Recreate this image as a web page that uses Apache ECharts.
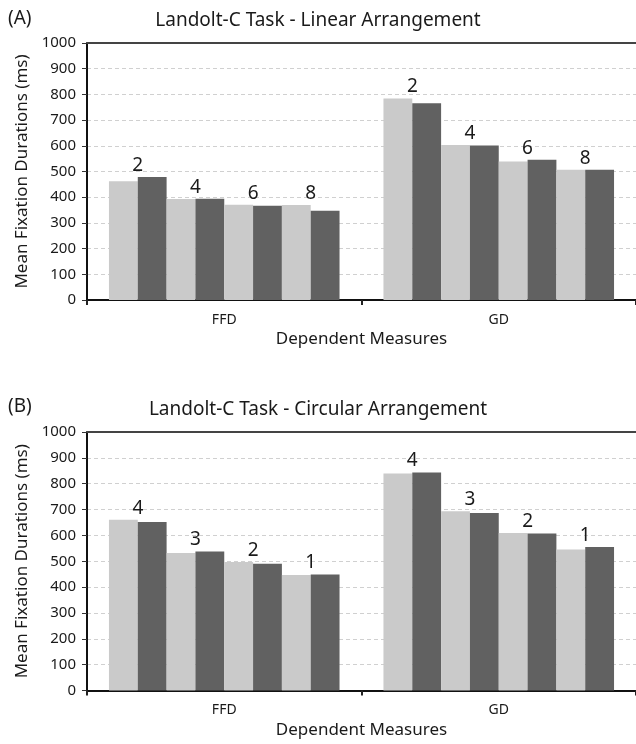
<!DOCTYPE html>
<html>
<head>
<meta charset="utf-8">
<script src="https://cdn.jsdelivr.net/npm/echarts@6/dist/echarts.min.js"></script>
<style>
html,body{margin:0;padding:0;background:#fff;}
#chart{width:636px;height:744px;}
</style>
</head>
<body>
<div id="chart"></div>
<script>
// ---- data ----
const categories = ['FFD', 'GD'];
const yTicks = [0, 100, 200, 300, 400, 500, 600, 700, 800, 900, 1000];
// per pair: [FFD, GD]
const linearLightVals  = [[462, 784], [393, 603], [371, 539], [370, 507]];
const linearDarkVals   = [[479, 766], [394, 601], [367, 546], [347, 507]];
const linearPairLabels = ['2', '4', '6', '8'];
const circularLightVals  = [[661, 839], [532, 693], [497, 609], [447, 545]];
const circularDarkVals   = [[652, 843], [538, 687], [490, 607], [449, 555]];
const circularPairLabels = ['4', '3', '2', '1'];
const panelTitles = ['Landolt-C Task - Linear Arrangement', 'Landolt-C Task - Circular Arrangement'];
const panelTags = ['(A)', '(B)'];
const xAxisName = 'Dependent Measures';
const yAxisName = 'Mean Fixation Durations (ms)';

const FONT = '"Noto Sans", sans-serif';
const LIGHT = '#cacaca';
const DARK = '#616161';
const HALF = 14.5;
const TXT = '#1a1a1a';

function buildSeries(gridIdx, lightVals, darkVals, pairLabels) {
  const out = [];
  lightVals.forEach((lv, i) => {
    const dv = darkVals[i];
    const mk = (vals, other, isLight) => vals.map((v, j) => {
      const taller = isLight ? v >= other[j] : v > other[j];
      const item = { value: v };
      if (taller) {
        item.label = {
          show: true, position: 'top', distance: 2,
          formatter: pairLabels[i],
          offset: [isLight ? HALF : -HALF, 0],
          fontSize: 19, color: TXT, fontFamily: FONT
        };
      }
      return item;
    });
    out.push({
      type: 'bar', xAxisIndex: gridIdx, yAxisIndex: gridIdx,
      data: mk(lv, dv, true), barGap: 0, barCategoryGap: '16%',
      itemStyle: { color: LIGHT }, silent: true,
      markLine: i === 0 ? {
        silent: true, symbol: 'none', label: { show: false },
        lineStyle: { color: '#444', width: 2, type: 'solid' },
        data: [{ yAxis: yTicks[yTicks.length - 1] }]
      } : undefined
    });
    out.push({
      type: 'bar', xAxisIndex: gridIdx, yAxisIndex: gridIdx,
      data: mk(dv, lv, false), barGap: 0, barCategoryGap: '16%',
      itemStyle: { color: DARK }, silent: true
    });
  });
  return out;
}

function xAxisCfg(gridIdx) {
  return {
    type: 'category', gridIndex: gridIdx, data: categories,
    axisLine: { show: true, lineStyle: { color: '#111', width: 2 } },
    axisTick: { show: true, length: 5, lineStyle: { color: '#222', width: 2 } },
    axisLabel: { fontSize: 14, color: TXT, margin: 13, fontFamily: FONT },
    name: xAxisName, nameLocation: 'middle', nameGap: 31,
    nameTextStyle: { fontSize: 17, color: TXT, fontFamily: FONT }
  };
}
function yAxisCfg(gridIdx) {
  return {
    type: 'value', gridIndex: gridIdx, min: yTicks[0], max: yTicks[yTicks.length - 1], interval: 100,
    axisLine: { show: true, lineStyle: { color: '#111', width: 2 } },
    axisTick: { show: true, length: 5, lineStyle: { color: '#333' } },
    axisLabel: { fontSize: 15, color: TXT, margin: 11, fontFamily: FONT, formatter: v => String(v) },
    splitLine: { show: true, lineStyle: { color: '#d0d0d0', type: [4, 3] } },
    name: yAxisName, nameLocation: 'middle', nameGap: 53,
    nameTextStyle: { fontSize: 17, color: TXT, fontFamily: FONT }
  };
}

const chart = echarts.init(document.getElementById('chart'), null, { renderer: 'canvas' });
chart.setOption({
  backgroundColor: '#fff',
  animation: false,
  textStyle: { fontFamily: FONT },
  title: [
    { text: panelTitles[0], left: 'center', top: 6, textStyle: { fontSize: 19, fontWeight: 'normal', color: TXT, fontFamily: FONT } },
    { text: panelTags[0], left: 3, top: 4, textStyle: { fontSize: 19, fontWeight: 'normal', color: TXT, fontFamily: FONT } },
    { text: panelTitles[1], left: 'center', top: 395, textStyle: { fontSize: 19, fontWeight: 'normal', color: TXT, fontFamily: FONT } },
    { text: panelTags[1], left: 3, top: 392, textStyle: { fontSize: 19, fontWeight: 'normal', color: TXT, fontFamily: FONT } }
  ],
  grid: [
    { left: 87, right: -4, top: 43, height: 257 },
    { left: 87, right: -4, top: 432, height: 258.5 }
  ],
  xAxis: [xAxisCfg(0), xAxisCfg(1)],
  yAxis: [yAxisCfg(0), yAxisCfg(1)],
  series: [
    ...buildSeries(0, linearLightVals, linearDarkVals, linearPairLabels),
    ...buildSeries(1, circularLightVals, circularDarkVals, circularPairLabels)
  ]
});
</script>
</body>
</html>
